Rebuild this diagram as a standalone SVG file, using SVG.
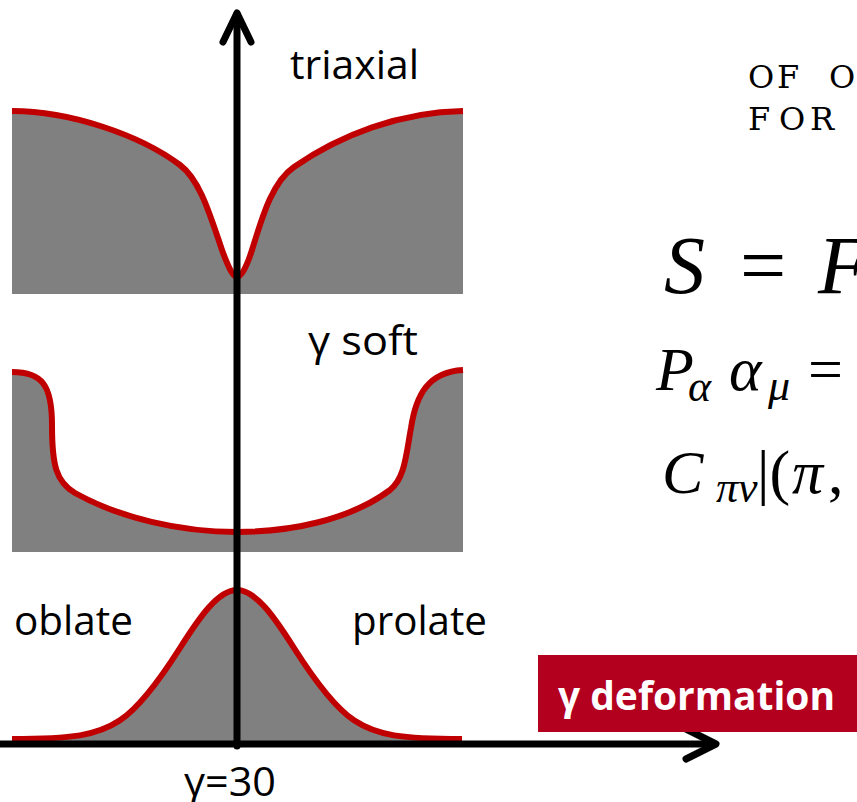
<svg xmlns="http://www.w3.org/2000/svg" width="857" height="802" viewBox="0 0 857 802">
  <defs>
    <style>
      .fill { fill: #808080; stroke: none; }
      .curve { fill: none; stroke: #c00000; stroke-width: 6; stroke-linejoin: round; }
      .axis { fill: none; stroke: #000; stroke-width: 7; stroke-linecap: round; stroke-linejoin: round; }
      .lbl { font-family: "Open Sans", "Noto Sans", "Liberation Sans", sans-serif; font-size: 41px; fill: #000; }
      .math { font-family: "Liberation Serif", "DejaVu Serif", serif; fill: #000; }
      .caps { font-family: "DejaVu Serif", "Liberation Serif", serif; fill: #000; }
      .mi { font-style: italic; }
    </style>
  </defs>
  <rect width="857" height="802" fill="#fff"/>

  <g id="triaxial-panel">
    <path class="fill" d="M12,111 C 70,111 140,135 180,165 C 200,180 210,215 222,250 C 230,272 234,277 237,277 C 240,277 245,272 252,250 C 262,218 272,182 294,167 C 340,135 400,112 463,111 L463,294 L12,294 Z"/>
    <path class="curve" d="M12,111 C 70,111 140,135 180,165 C 200,180 210,215 222,250 C 230,272 234,277 237,277 C 240,277 245,272 252,250 C 262,218 272,182 294,167 C 340,135 400,112 463,111"/>
  </g>

  <g id="gamma-soft-panel">
    <path class="fill" d="M12,372 C 42,372 52,385 52,425 C 52,465 56,482 75,493 C 120,518 180,532 237,532 C 290,532 350,520 390,490 C 405,478 406,455 411,428 C 416,395 428,372 463,370 L463,552 L12,552 Z"/>
    <path class="curve" d="M12,372 C 42,372 52,385 52,425 C 52,465 56,482 75,493 C 120,518 180,532 237,532 C 290,532 350,520 390,490 C 405,478 406,455 411,428 C 416,395 428,372 463,370"/>
  </g>

  <g id="axial-panel">
    <path class="fill" d="M12,739 C 34.7,739 57.3,739 80,735.4 C 93.3,733.1 106.7,729.2 120,720.3 C 140,707 160,679.5 180,648 C 199,618.1 218,590 237,590 C 256,590 275,618.1 294,648 C 314,679.5 334,707 354,720.3 C 367.3,729.2 380.7,733.1 394,735.4 C 416.7,739 439.3,739 462,739 L462,744 L12,744 Z"/>
    <path class="curve" d="M12,739 C 34.7,739 57.3,739 80,735.4 C 93.3,733.1 106.7,729.2 120,720.3 C 140,707 160,679.5 180,648 C 199,618.1 218,590 237,590 C 256,590 275,618.1 294,648 C 314,679.5 334,707 354,720.3 C 367.3,729.2 380.7,733.1 394,735.4 C 416.7,739 439.3,739 462,739"/>
  </g>

  <g id="connectors">
    <line class="axis" x1="237" y1="746" x2="237" y2="14"/>
    <polyline class="axis" points="223,42 237,13 251,42"/>
    <line class="axis" x1="-5" y1="744" x2="714" y2="744"/>
    <polyline class="axis" points="686,729 716,744 686,759"/>
  </g>

  <g id="labels">
    <text class="lbl" x="290" y="79" textLength="129" lengthAdjust="spacingAndGlyphs">triaxial</text>
    <text class="lbl" x="308" y="355" textLength="110" lengthAdjust="spacingAndGlyphs">γ soft</text>
    <text class="lbl" x="14" y="635" textLength="119" lengthAdjust="spacingAndGlyphs">oblate</text>
    <text class="lbl" x="352" y="635" textLength="135" lengthAdjust="spacingAndGlyphs">prolate</text>
    <text class="lbl" x="184" y="796" textLength="92" lengthAdjust="spacingAndGlyphs">γ=30</text>
  </g>

  <g id="gamma-deformation">
    <rect x="538" y="655" width="319" height="77" fill="#b4001f"/>
    <text x="558" y="710" font-family="Open Sans, Noto Sans, Liberation Sans, sans-serif" font-weight="bold" font-size="40" fill="#fff" textLength="277" lengthAdjust="spacingAndGlyphs">γ deformation</text>
  </g>

  <g id="math-text">
    <text class="caps" font-size="32"><tspan x="748 777" y="88">OF</tspan><tspan x="829" y="88">O</tspan><tspan x="748 779 810" y="130">FOR</tspan></text>
    <text class="math" font-size="82"><tspan class="mi" x="664" y="293">S</tspan><tspan x="740" y="293">=</tspan><tspan class="mi" x="818" y="293">F</tspan></text>
    <text class="math" font-size="62"><tspan class="mi" x="656" y="390">P</tspan><tspan class="mi" font-size="44" x="688" y="401">α</tspan><tspan class="mi" x="729" y="390">α</tspan><tspan class="mi" font-size="44" x="768" y="400">μ</tspan><tspan x="808" y="390">=</tspan></text>
    <text class="math" font-size="62"><tspan class="mi" x="662" y="493">C</tspan><tspan class="mi" font-size="44" x="716" y="502">πν</tspan><tspan x="757" y="493">|(</tspan><tspan class="mi" x="792" y="493">π</tspan><tspan x="828" y="493">,</tspan></text>
  </g>
</svg>
